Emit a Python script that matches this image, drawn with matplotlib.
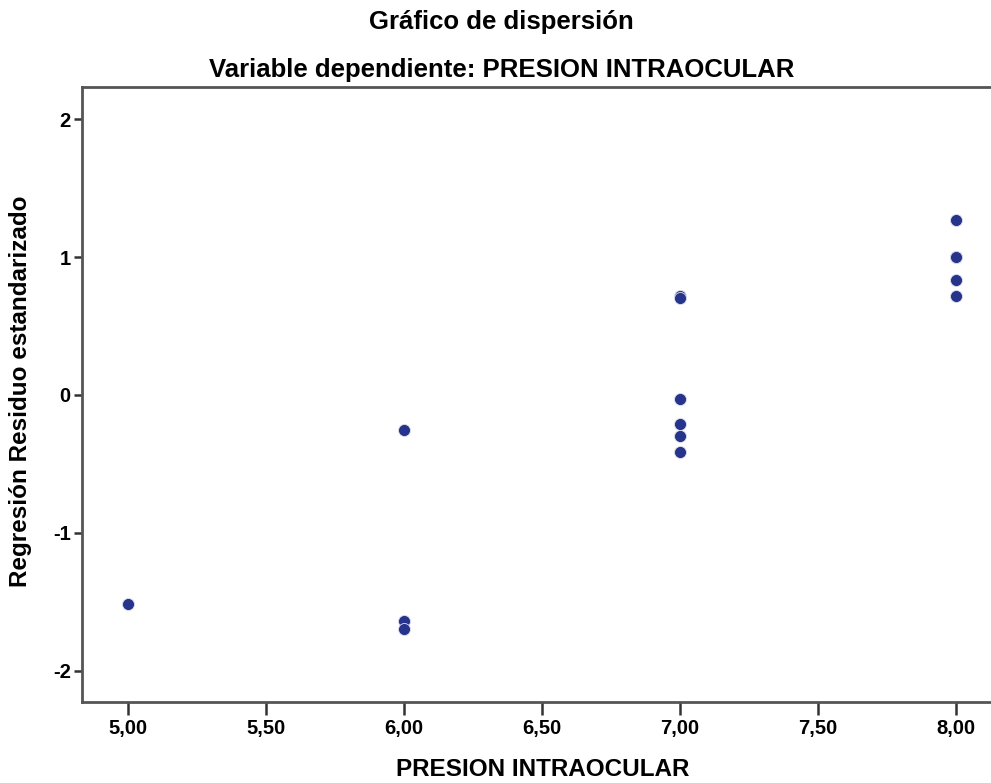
import matplotlib
matplotlib.use("Agg")
from matplotlib import pyplot as plt

# presion intraocular vs residuo estandarizado
presion = [5, 6, 6, 6, 7, 7, 7, 7, 7, 7, 8, 8, 8, 8, 8]
residuo = [-1.517, -0.254, -1.638, -1.698,
           0.716, 0.702, -0.031, -0.210, -0.295, -0.416,
           1.270, 1.004, 0.998, 0.835, 0.719]

x_ticks = [5.0, 5.5, 6.0, 6.5, 7.0, 7.5, 8.0]
x_tick_labels = ["5,00", "5,50", "6,00", "6,50", "7,00", "7,50", "8,00"]
y_ticks = [-2, -1, 0, 1, 2]
y_tick_labels = ["-2", "-1", "0", "1", "2"]

plt.rcParams["font.family"] = ["Liberation Sans", "DejaVu Sans"]
plt.rcParams["font.weight"] = "bold"

fig = plt.figure(figsize=(9.91, 7.83), dpi=100)
ax = fig.add_axes([0.0827, 0.1034, 0.9173, 0.7855])

ax.scatter(presion, residuo, s=75, color="#27348b", edgecolors="#dfe2f0",
           linewidths=0.6, zorder=3)

ax.set_xlim(4.833, 8.127)
ax.set_ylim(-2.228, 2.235)
ax.set_xticks(x_ticks)
ax.set_xticklabels(x_tick_labels)
ax.set_yticks(y_ticks)
ax.set_yticklabels(y_tick_labels)
ax.tick_params(axis="x", length=9, width=1.8, color="#333333", labelsize=14.5, pad=3)
ax.tick_params(axis="y", length=6, width=1.8, color="#333333", labelsize=14.5, pad=2)
for lab in ax.get_xticklabels() + ax.get_yticklabels():
    lab.set_fontweight("bold")

for side in ["left", "bottom", "top"]:
    ax.spines[side].set_color("#555555")
    ax.spines[side].set_linewidth(2)
ax.spines["right"].set_visible(False)

fig.text(0.506, 0.972, "Gráfico de dispersión", ha="center", va="center",
         fontsize=18.5, fontweight="bold")
fig.text(0.506, 0.911, "Variable dependiente: PRESION INTRAOCULAR", ha="center",
         va="center", fontsize=18.5, fontweight="bold")
fig.text(0.548, 0.017, "PRESION INTRAOCULAR", ha="center", va="center",
         fontsize=17.5, fontweight="bold")
fig.text(0.021, 0.5, "Regresión Residuo estandarizado", ha="center", va="center",
         rotation=90, fontsize=17.5, fontweight="bold")

fig.savefig("out.png", dpi=100)
